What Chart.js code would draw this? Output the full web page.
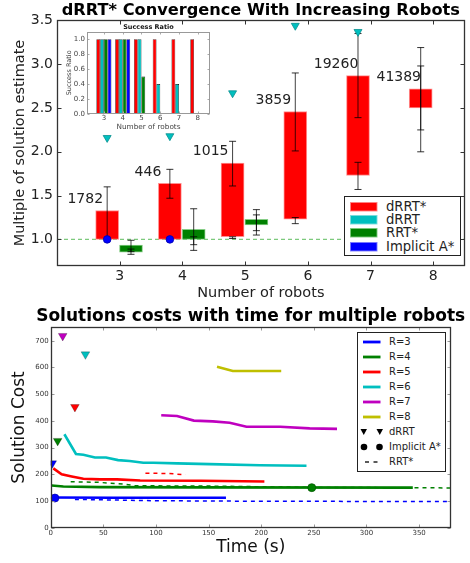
<!DOCTYPE html>
<html><head><meta charset="utf-8">
<script src="https://cdn.jsdelivr.net/npm/chart.js@4.4.1/dist/chart.umd.min.js"></script>
<style>
html,body{margin:0;padding:0;background:#fff;}
#wrap{position:relative;width:470px;height:563px;overflow:hidden;font-family:"DejaVu Sans",sans-serif;}
canvas{position:absolute;}
.legend{position:absolute;border:1px solid #222;background:#fff;box-sizing:border-box;}
.row{position:absolute;left:0;height:0;white-space:nowrap;color:#222;}
.row span{position:absolute;top:0;transform:translateY(-50%);line-height:1;}
.row svg{position:absolute;}
</style></head><body>
<div id="wrap">
<canvas id="top" width="470" height="300" style="left:0;top:0"></canvas>
<canvas id="inset" width="160" height="117" style="left:55px;top:18px"></canvas>
<canvas id="bottom" width="470" height="263" style="left:0;top:300px"></canvas>
<div id="legTop" class="legend" style="left:344px;top:196px;width:117px;height:60px"></div>
<div id="legBot" class="legend" style="left:357px;top:332px;width:89px;height:140px"></div>
</div>
<script>
// ---------- top chart data ----------
const robots = [3, 4, 5, 6, 7, 8];
const drrtStarLow  = [1.00, 1.00, 1.03, 1.23, 1.73, 2.50];
const drrtStarHigh = [1.33, 1.64, 1.87, 2.46, 2.87, 2.72];
const drrtStarWhiskALow  = [1.00, 1.47, 1.61, 2.01, 2.39, 2.00];
const drrtStarWhiskAHigh = [1.60, 1.80, 2.12, 2.90, 3.35, 3.19];
const drrtStarWhiskBLow  = [null, null, 1.01, 1.18, 1.57, 2.25];
const drrtStarWhiskBHigh = [null, null, 1.03, 1.25, 1.88, 2.98];
const rrtStarRobots = [3, 4, 5];
const rrtStarLow  = [0.855, 1.00, 1.165];
const rrtStarHigh = [0.935, 1.115, 1.23];
const rrtStarWhiskALow  = [0.83, 0.875, 1.05];
const rrtStarWhiskAHigh = [0.99, 1.35, 1.34];
const rrtStarWhiskBLow  = [0.86, 0.94, 1.10];
const rrtStarWhiskBHigh = [0.89, 1.03, 1.28];
const drrtFirst = [2.16, 2.18, 2.67, 3.44, 3.37, null];
const implicitAStar = [1.0, 1.0, null, null, null, null];
const sampleCounts = ['1782', '446', '1015', '3859', '19260', '41389'];
const referenceLevel = 1.0;
const topYTicks = [1.0, 1.5, 2.0, 2.5, 3.0, 3.5];

// ---------- inset data ----------
const successDrrtStar = [1, 1, 1, 1, 1, 1];
const successDrrt     = [1, 1, 1, 0.4, 0.4, 0];
const successRrtStar  = [1, 1, 0.5, 0, 0, 0];
const successImplicit = [1, 1, 0, 0, 0, 0];
const successTicks = [0, 0.2, 0.4, 0.6, 0.8, 1.0];

// ---------- bottom chart data ----------
const r3Time = [2.5, 60, 166.5];
const r3Cost = [113, 112, 112];
const r4Time = [1, 12, 47, 142, 344];
const r4Cost = [158, 154, 152, 151, 150];
const r5Time = [2.5, 10.4, 20, 31, 47, 63, 85, 142, 203];
const r5Cost = [222, 200, 192, 183, 181, 181, 177, 176, 173];
const r6Time = [13, 24, 31, 42, 52.5, 64, 75, 88, 97.5, 120, 151, 199, 243];
const r6Cost = [350, 276, 273, 263, 263, 253, 250, 243, 243, 241, 238, 234, 232];
const r7Time = [105, 120, 136, 154, 170, 186, 218, 246, 272];
const r7Cost = [421, 418, 401, 398, 393, 378, 378, 372, 370];
const r8Time = [158, 173, 219];
const r8Cost = [603, 587, 587];
const rrt3Time = [23, 100, 200, 380];
const rrt3Cost = [106, 101, 99, 98];
const rrt4Time = [19, 45, 70, 80, 145, 250, 380];
const rrt4Cost = [172, 170, 163, 157, 156, 151, 149];
const rrt5Time = [90, 112, 128];
const rrt5Cost = [204, 203, 198];
const drrtSeries = ['R=3', 'R=4', 'R=5', 'R=6', 'R=7'];
const drrtFirstTime = [1.5, 6.6, 23, 33, 11.4];
const drrtFirstCost = [241, 325, 452, 649, 718];
const implicitTime = [4, 248];
const implicitCost = [111, 150];
const timeTicks = [0, 50, 100, 150, 200, 250, 300, 350];
const costTicks = [0, 100, 200, 300, 400, 500, 600, 700];

const C = {blue:'#0000FF', green:'#008000', red:'#FF0000', cyan:'#00BFBF', magenta:'#BF00BF', yellow:'#BFBF00'};
const FONT = '"DejaVu Sans", sans-serif';
const NOGRID = {display: false, drawTicks: false, tickLength: 0};

function zip(xs, ys, dx) { return xs.map((x, i) => ({x: x + (dx || 0), y: ys[i]})); }
function floatBars(xs, lo, hi, dx) { return xs.map((x, i) => ({x: x + dx, y: [lo[i], hi[i]]})); }
function whiskers(xs, lo, hi, dx) {
  const pts = [];
  xs.forEach((x, i) => {
    if (lo[i] == null) return;
    pts.push({x: x + dx, y: lo[i]}, {x: x + dx, y: hi[i]}, {x: x + dx, y: null});
  });
  return pts;
}

// axes title centred over the plot area (matplotlib style)
const plotTitle = {
  id: 'plotTitle',
  afterDraw(chart, args, o) {
    const {ctx, chartArea: a} = chart;
    ctx.save();
    ctx.font = `bold ${o.size}px ${FONT}`;
    ctx.fillStyle = o.color || '#000';
    ctx.textAlign = 'center';
    ctx.textBaseline = 'middle';
    ctx.fillText(o.text, (a.left + a.right) / 2, o.y);
    ctx.restore();
  }
};

const framePlugin = {
  id: 'frame',
  afterDatasetsDraw(chart, args, o) {
    const {ctx, chartArea: a, scales} = chart;
    const L = o.tick || 4;
    const l = Math.round(a.left) + 0.5, r = Math.round(a.right) - 0.5;
    const t = Math.round(a.top) + 0.5, b = Math.round(a.bottom) - 0.5;
    ctx.save();
    ctx.strokeStyle = o.tickColor || '#333';
    ctx.lineWidth = 1;
    ctx.beginPath();
    scales.x.ticks.forEach(tk => {
      const p = Math.round(scales.x.getPixelForValue(tk.value)) + 0.5;
      ctx.moveTo(p, b); ctx.lineTo(p, b - L);
      ctx.moveTo(p, t); ctx.lineTo(p, t + L);
    });
    scales.y.ticks.forEach(tk => {
      const p = Math.round(scales.y.getPixelForValue(tk.value)) + 0.5;
      ctx.moveTo(l, p); ctx.lineTo(l + L, p);
      ctx.moveTo(r, p); ctx.lineTo(r - L, p);
    });
    ctx.stroke();
    ctx.strokeStyle = o.color || '#222';
    ctx.lineWidth = o.width || 1;
    ctx.strokeRect(l, t, r - l, b - t);
    ctx.restore();
  }
};

const countLabels = {
  id: 'countLabels',
  afterDatasetsDraw(chart) {
    const {ctx, scales: {x, y}} = chart;
    ctx.save();
    ctx.font = '14px ' + FONT;
    ctx.fillStyle = '#222';
    ctx.textAlign = 'center';
    ctx.textBaseline = 'middle';
    robots.forEach((r, i) => {
      ctx.fillText(sampleCounts[i], x.getPixelForValue(r - 0.55), y.getPixelForValue(drrtStarHigh[i] + 0.13));
    });
    ctx.restore();
  }
};

const whiskerStyle = {
  type: 'line', borderColor: 'rgba(0,0,0,0.75)', borderWidth: 1, spanGaps: false,
  pointStyle: 'line', pointRadius: 3.5, pointBorderColor: 'rgba(0,0,0,0.8)', pointBorderWidth: 1,
  order: 3
};

// ---------- TOP CHART ----------
new Chart(document.getElementById('top'), {
  type: 'bar',
  data: {
    datasets: [
      {type: 'line', data: [{x: 2, y: referenceLevel}, {x: 8.5, y: referenceLevel}],
       borderColor: 'rgba(70,180,70,0.7)', borderWidth: 1.2, borderDash: [4, 3], pointRadius: 0, order: 10},
      {label: 'dRRT*', data: floatBars(robots, drrtStarLow, drrtStarHigh, -0.2), grouped: false,
       backgroundColor: C.red, borderColor: 'rgba(255,130,130,0.9)', borderWidth: 1, borderSkipped: false,
       barThickness: 23, order: 5},
      {label: 'RRT*', data: floatBars(rrtStarRobots, rrtStarLow, rrtStarHigh, 0.18), grouped: false,
       backgroundColor: C.green, borderColor: 'rgba(120,200,120,0.9)', borderWidth: 1, borderSkipped: false,
       barThickness: 23, order: 5},
      Object.assign({data: whiskers(robots, drrtStarWhiskALow, drrtStarWhiskAHigh, -0.2)}, whiskerStyle),
      Object.assign({data: whiskers(robots, drrtStarWhiskBLow, drrtStarWhiskBHigh, -0.2)}, whiskerStyle),
      Object.assign({data: whiskers(rrtStarRobots, rrtStarWhiskALow, rrtStarWhiskAHigh, 0.18)}, whiskerStyle),
      Object.assign({data: whiskers(rrtStarRobots, rrtStarWhiskBLow, rrtStarWhiskBHigh, 0.18)}, whiskerStyle),
      {type: 'line', label: 'dRRT', data: zip(robots, drrtFirst, -0.2), showLine: false,
       pointStyle: 'triangle', rotation: 180, pointRadius: 4.6, pointBackgroundColor: C.cyan,
       pointBorderColor: '#0a8f8f', pointBorderWidth: 0.8, order: 1},
      {type: 'line', label: 'Implicit A*', data: zip(robots, implicitAStar, -0.2), showLine: false,
       pointStyle: 'circle', pointRadius: 3.8, pointBackgroundColor: C.blue,
       pointBorderColor: '#0000aa', pointBorderWidth: 0.8, order: 1}
    ]
  },
  options: {
    responsive: false, animation: false, events: [],
    layout: {padding: {left: 0, right: 3, top: 20.4, bottom: 0}},
    plugins: {
      legend: {display: false}, tooltip: {enabled: false}, title: {display: false},
      plotTitle: {text: 'dRRT* Convergence With Increasing Robots', size: 16.2, y: 10.5},
      frame: {tick: 4, width: 1.3, color: '#333'}
    },
    scales: {
      x: {type: 'linear', min: 2, max: 8.5, offset: false,
          grid: NOGRID, border: {display: false},
          afterBuildTicks: s => { s.ticks = robots.map(v => ({value: v})); },
          afterFit: s => { s.height = 34.3; },
          ticks: {color: '#222', font: {family: FONT, size: 14}, padding: 2, maxRotation: 0},
          title: {display: true, text: 'Number of robots', color: '#222',
                  font: {family: FONT, size: 14.5, lineHeight: 1}, padding: {top: 0, bottom: 0}}},
      y: {type: 'linear', min: 0.7, max: 3.5,
          grid: NOGRID, border: {display: false},
          afterBuildTicks: s => { s.ticks = topYTicks.map(v => ({value: v})); },
          afterFit: s => { s.width = 57; },
          ticks: {color: '#222', font: {family: FONT, size: 14}, padding: 4, callback: v => Number(v).toFixed(1)},
          title: {display: true, text: 'Multiple of solution estimate', color: '#222',
                  font: {family: FONT, size: 14.5, lineHeight: 1}, padding: {top: 13, bottom: 0}}}
    }
  },
  plugins: [framePlugin, countLabels, plotTitle]
});

// ---------- INSET ----------
const insetBar = (label, vals, color) => ({label, data: zip(robots, vals), backgroundColor: color,
  borderColor: '#000', borderWidth: 0.6, borderSkipped: false, categoryPercentage: 0.8, barPercentage: 1.0});
new Chart(document.getElementById('inset'), {
  type: 'bar',
  data: {datasets: [
    insetBar('dRRT*', successDrrtStar, C.red),
    insetBar('dRRT', successDrrt, C.cyan),
    insetBar('RRT*', successRrtStar, C.green),
    insetBar('Implicit A*', successImplicit, C.blue)
  ]},
  options: {
    responsive: false, animation: false, events: [],
    layout: {padding: {left: 0, right: 5, top: 13.7, bottom: 0}},
    plugins: {
      legend: {display: false}, tooltip: {enabled: false}, title: {display: false},
      plotTitle: {text: 'Success Ratio', size: 6.5, y: 8.9, color: '#111'},
      frame: {tick: 2, width: 1, color: '#999', tickColor: '#aaa'}
    },
    scales: {
      x: {type: 'linear', min: 2.1, max: 8.65, offset: false,
          grid: NOGRID, border: {display: false},
          afterBuildTicks: s => { s.ticks = robots.map(v => ({value: v})); },
          afterFit: s => { s.height = 21; },
          ticks: {color: '#444', font: {family: FONT, size: 7}, padding: 0, maxRotation: 0},
          title: {display: true, text: 'Number of robots', color: '#444',
                  font: {family: FONT, size: 7.3, lineHeight: 1}, padding: {top: 0, bottom: 4.4}}},
      y: {type: 'linear', min: 0, max: 1.1,
          grid: NOGRID, border: {display: false},
          afterBuildTicks: s => { s.ticks = successTicks.map(v => ({value: v})); },
          afterFit: s => { s.width = 32; },
          ticks: {color: '#444', font: {family: FONT, size: 7}, padding: 2, callback: v => Number(v).toFixed(1)},
          title: {display: true, text: 'Success Ratio', color: '#444',
                  font: {family: FONT, size: 6.5, lineHeight: 1}, padding: {top: 10.7, bottom: 0}}}
    }
  },
  plugins: [framePlugin, plotTitle]
});

// ---------- BOTTOM CHART ----------
const solid = (label, t, c, color) => ({label, data: zip(t, c), borderColor: color, borderWidth: 2.6,
  pointRadius: 0, tension: 0, order: 3});
const dashed = (t, c, color) => ({data: zip(t, c), borderColor: color, borderWidth: 1.5, borderDash: [4, 4],
  pointRadius: 0, tension: 0, order: 4});
const seriesColors = [C.blue, C.green, C.red, C.cyan, C.magenta];
new Chart(document.getElementById('bottom'), {
  type: 'line',
  data: {datasets: [
    solid('R=3', r3Time, r3Cost, C.blue),
    solid('R=4', r4Time, r4Cost, C.green),
    solid('R=5', r5Time, r5Cost, C.red),
    solid('R=6', r6Time, r6Cost, C.cyan),
    solid('R=7', r7Time, r7Cost, C.magenta),
    solid('R=8', r8Time, r8Cost, C.yellow),
    dashed(rrt3Time, rrt3Cost, C.blue),
    dashed(rrt4Time, rrt4Cost, C.green),
    dashed(rrt5Time, rrt5Cost, C.red),
    {label: 'dRRT', data: zip(drrtFirstTime, drrtFirstCost), showLine: false, pointStyle: 'triangle', rotation: 180,
     pointRadius: 5, pointBackgroundColor: seriesColors, pointBorderColor: seriesColors.map(() => 'rgba(0,0,0,0.35)'),
     pointBorderWidth: 0.7, order: 1},
    {label: 'Implicit A*', data: zip(implicitTime, implicitCost), showLine: false, pointStyle: 'circle',
     pointRadius: 4, pointBackgroundColor: [C.blue, C.green], pointBorderColor: ['#0000aa', '#005500'],
     pointBorderWidth: 0.7, order: 1}
  ]},
  options: {
    responsive: false, animation: false, events: [],
    layout: {padding: {left: 0, right: 19.3, top: 27.4, bottom: 0}},
    plugins: {
      legend: {display: false}, tooltip: {enabled: false}, title: {display: false},
      plotTitle: {text: 'Solutions costs with time for multiple robots', size: 17, y: 16.2},
      frame: {tick: 3, width: 1.3, color: '#333', tickColor: '#999'}
    },
    scales: {
      x: {type: 'linear', min: 0, max: 380,
          grid: NOGRID, border: {display: false},
          afterBuildTicks: s => { s.ticks = timeTicks.map(v => ({value: v})); },
          afterFit: s => { s.height = 35.3; },
          ticks: {color: '#333', font: {family: FONT, size: 7}, padding: 1.4, maxRotation: 0},
          title: {display: true, text: 'Time (s)', color: '#111',
                  font: {family: FONT, size: 17, lineHeight: 1}, padding: {top: 0, bottom: 6.5}}},
      y: {type: 'linear', min: 0, max: 750,
          grid: NOGRID, border: {display: false},
          afterBuildTicks: s => { s.ticks = costTicks.map(v => ({value: v})); },
          afterFit: s => { s.width = 50.7; },
          ticks: {color: '#333', font: {family: FONT, size: 7}, padding: 2},
          title: {display: true, text: 'Solution Cost', color: '#111',
                  font: {family: FONT, size: 17, lineHeight: 1}, padding: {top: 11.5, bottom: 0}}}
    }
  },
  plugins: [framePlugin, plotTitle]
});

// ---------- HTML legends ----------
const topLegend = [
  {label: 'dRRT*', color: C.red, edge: 'rgba(255,130,130,0.9)'},
  {label: 'dRRT', color: C.cyan, edge: 'rgba(120,220,220,0.9)'},
  {label: 'RRT*', color: C.green, edge: 'rgba(120,200,120,0.9)'},
  {label: 'Implicit A*', color: C.blue, edge: 'rgba(120,120,255,0.9)'}
];
const legTop = document.getElementById('legTop');
topLegend.forEach((e, i) => {
  const row = document.createElement('div');
  row.className = 'row';
  row.style.top = (10.2 + i * 13.1) + 'px';
  row.innerHTML = `<svg width="28" height="10" style="left:4.5px;top:-5px"><rect x="0.5" y="0.5" width="26.5" height="8.5" fill="${e.color}" stroke="${e.edge}" stroke-width="1"/></svg>` +
    `<span style="left:41px;font-size:13.2px">${e.label}</span>`;
  legTop.appendChild(row);
});

const botLegend = [
  {label: 'R=3', kind: 'line', color: C.blue},
  {label: 'R=4', kind: 'line', color: C.green},
  {label: 'R=5', kind: 'line', color: C.red},
  {label: 'R=6', kind: 'line', color: C.cyan},
  {label: 'R=7', kind: 'line', color: C.magenta},
  {label: 'R=8', kind: 'line', color: C.yellow},
  {label: 'dRRT', kind: 'tri', color: '#000'},
  {label: 'Implicit A*', kind: 'dot', color: '#000'},
  {label: 'RRT*', kind: 'dash', color: '#000'}
];
const legBot = document.getElementById('legBot');
botLegend.forEach((e, i) => {
  let g = '';
  if (e.kind === 'line') g = `<line x1="5" y1="6" x2="22.5" y2="6" stroke="${e.color}" stroke-width="2.8"/>`;
  if (e.kind === 'tri') g = `<polygon points="2.5,3 9,3 5.75,9" fill="${e.color}"/><polygon points="18.5,3 25,3 21.75,9" fill="${e.color}"/>`;
  if (e.kind === 'dot') g = `<circle cx="6" cy="6" r="3.3" fill="${e.color}"/><circle cx="21.5" cy="6" r="3.3" fill="${e.color}"/>`;
  if (e.kind === 'dash') g = `<line x1="7" y1="6" x2="11" y2="6" stroke="${e.color}" stroke-width="1.3"/><line x1="15.5" y1="6" x2="19.5" y2="6" stroke="${e.color}" stroke-width="1.3"/>`;
  const row = document.createElement('div');
  row.className = 'row';
  row.style.top = (9.4 + i * 15) + 'px';
  row.innerHTML = `<svg width="28" height="12" style="left:0;top:-6px">${g}</svg><span style="left:31px;font-size:10px">${e.label}</span>`;
  legBot.appendChild(row);
});
</script>
</body></html>
